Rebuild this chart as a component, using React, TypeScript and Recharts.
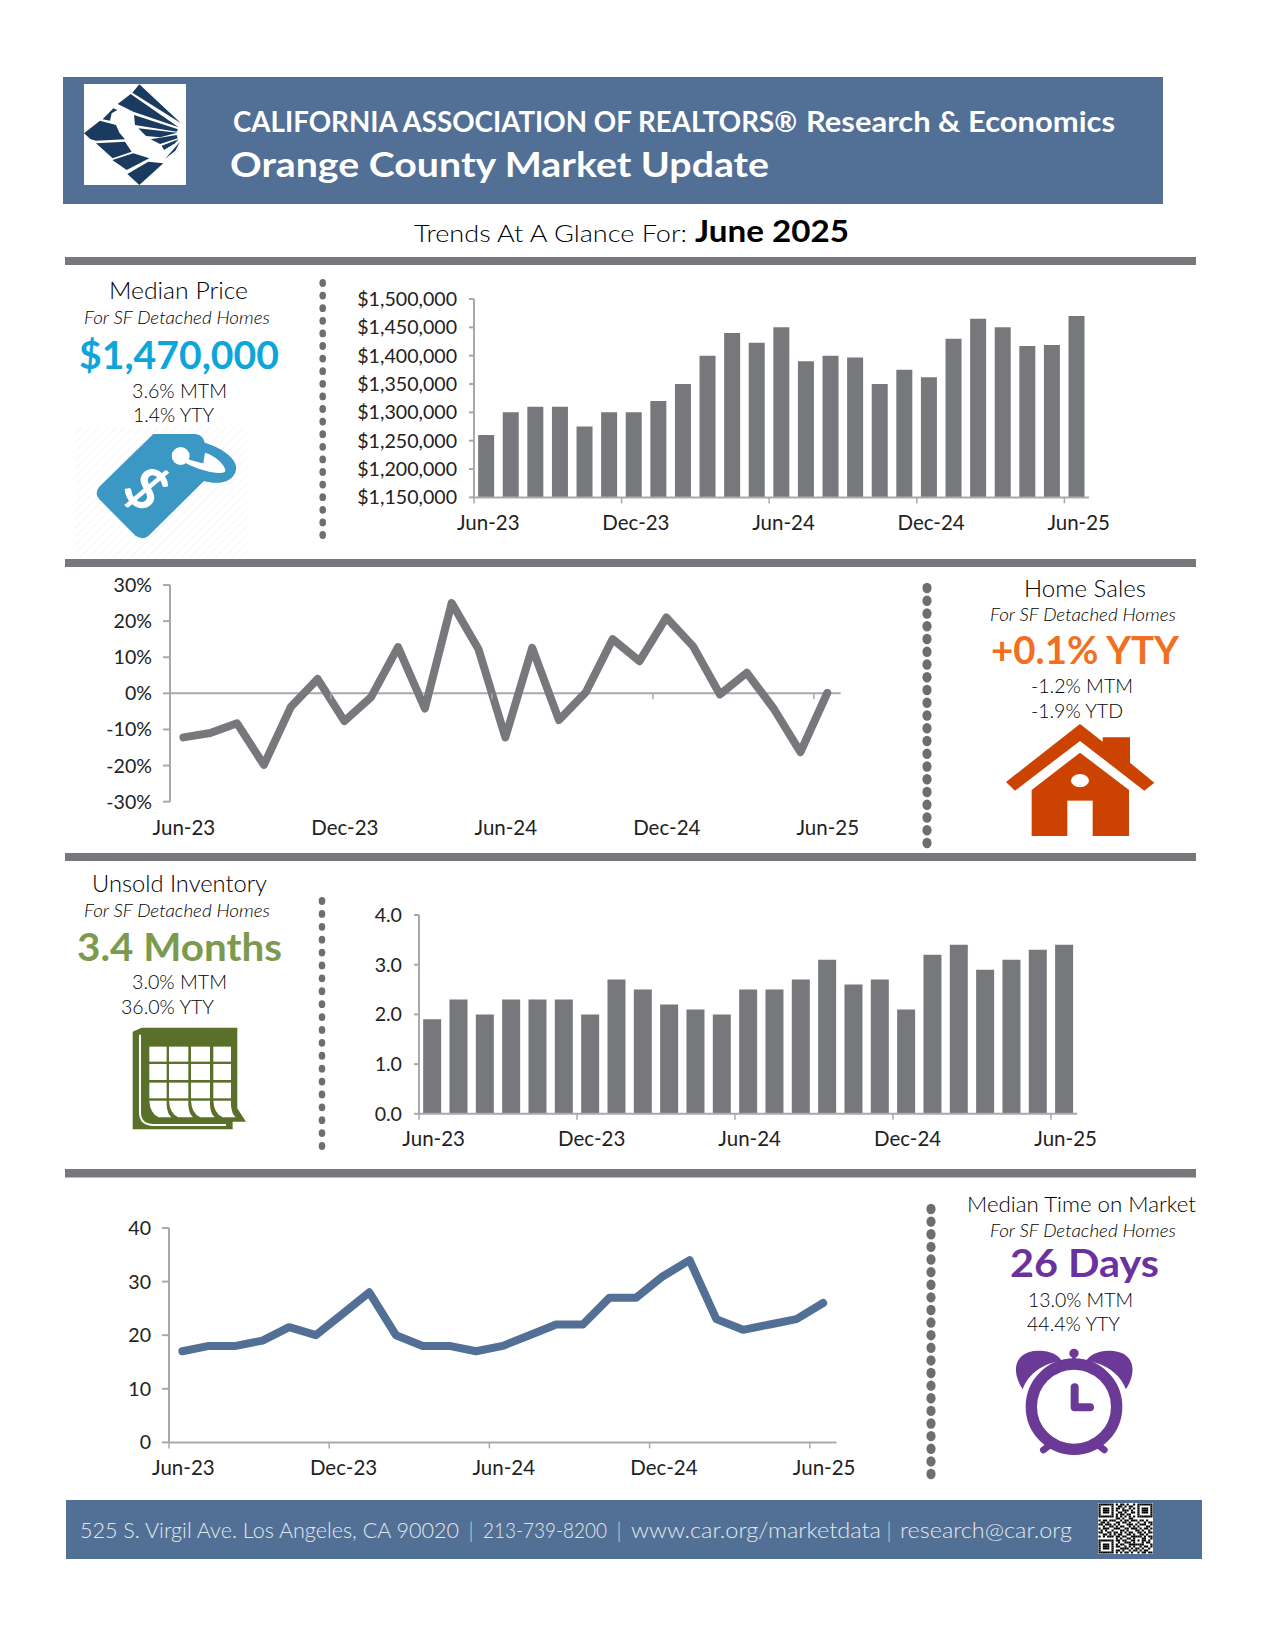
import React from "react";
import { BarChart, Bar, LineChart, Line, XAxis, YAxis, ReferenceLine } from "recharts";

const months = ["Jun-23","Jul-23","Aug-23","Sep-23","Oct-23","Nov-23","Dec-23","Jan-24","Feb-24","Mar-24","Apr-24","May-24","Jun-24","Jul-24","Aug-24","Sep-24","Oct-24","Nov-24","Dec-24","Jan-25","Feb-25","Mar-25","Apr-25","May-25","Jun-25"];
const medianPrice = [1260000,1300000,1310000,1310000,1275000,1300000,1300000,1320000,1350000,1400000,1440000,1423000,1450000,1390000,1400000,1397000,1350000,1375000,1362000,1430000,1465000,1450000,1417000,1419000,1470000];
const homeSalesYoY = [-12.2,-11,-8.3,-19.8,-3.8,4,-7.7,-1,12.8,-4.2,25,12.2,-12.2,12.6,-7.4,0.3,15,8.9,21,13,-0.3,5.7,-4.2,-16.3,0.1];
const unsoldInventory = [1.9,2.3,2.0,2.3,2.3,2.3,2.0,2.7,2.5,2.2,2.1,2.0,2.5,2.5,2.7,3.1,2.6,2.7,2.1,3.2,3.4,2.9,3.1,3.3,3.4];
const medianDays = [17,18,18,19,21.5,20,24,28,20,18,18,17,18,20,22,22,27,27,31,34,23,21,22,23,26];
const priceTicks = [1150000,1200000,1250000,1300000,1350000,1400000,1450000,1500000];
const salesTicks = [-30,-20,-10,0,10,20,30];
const inventoryTicks = [0,1,2,3,4];
const dayTicks = [0,10,20,30,40];

const zip = (values: number[]) => months.map((month, i) => ({ month, value: values[i] }));

const FONT = "Lato, 'Noto Sans', sans-serif";
const BLUE = "#526F95";
const GREY = "#77787B";
const AXIS = "#A7A9AC";
const INK = "#222222";
const PAD = 20;
const PAD_R = 45;
const XH = 45;

type Plot = { left: number; top: number; right: number; bottom: number; yw: number; base: number; dx: number };
const plot1: Plot = { left: 474, top: 299.3, right: 1089, bottom: 497.7, yw: 130, base: 32.3, dx: 2 };
const plot2: Plot = { left: 170.3, top: 585, right: 841, bottom: 801.7, yw: 70, base: 33.3, dx: 0.5 };
const plot3: Plot = { left: 418.7, top: 914.6, right: 1077, bottom: 1113.4, yw: 70, base: 32.4, dx: 1.5 };
const plot4: Plot = { left: 169.3, top: 1228, right: 836.8, bottom: 1442.4, yw: 70, base: 33, dx: 1 };

const boxStyle = (p: Plot): React.CSSProperties => ({
  position: "absolute",
  left: p.left - p.yw - PAD,
  top: p.top - PAD,
});
const dims = (p: Plot) => ({
  width: p.right - p.left + p.yw + PAD + PAD_R,
  height: p.bottom - p.top + XH + 2 * PAD,
  margin: { left: PAD, top: PAD, right: PAD_R, bottom: PAD },
});

const bandOf = (p: Plot) => (p.right - p.left) / months.length;

const makeTick = (p: Plot, tickFromValue?: number) => (props: any) => {
  const { x, payload } = props;
  const plotBottom = PAD + (p.bottom - p.top);
  const tickY = tickFromValue === undefined ? plotBottom : PAD + (p.bottom - p.top) * tickFromValue;
  const tx = x - bandOf(p) / 2;
  return (
    <g>
      <line x1={tx} x2={tx} y1={tickY} y2={tickY + 6} stroke={AXIS} strokeWidth={1.5} />
      <text x={x + p.dx} y={plotBottom + p.base} textAnchor="middle" fontFamily={FONT} fontSize={20.5} fill={INK}>
        {payload.value}
      </text>
    </g>
  );
};

const yTick = { fontFamily: FONT, fontSize: 19.6, fill: INK };
const line = { stroke: AXIS, strokeWidth: 2 };

const T = ({ a, b, y, s, w, i, f, children }: any) => (
  <text
    x={a}
    y={y}
    textLength={b - a}
    lengthAdjust="spacingAndGlyphs"
    fontFamily={FONT}
    fontSize={s}
    fontWeight={w || 300}
    fontStyle={i ? "italic" : "normal"}
    fill={f || "#000000"}
  >
    {children}
  </text>
);

const Dots = ({ x, y0, y1, rx, ry }: any) => {
  const n = Math.round((y1 - y0) / 12.6);
  const ds = Array.from({ length: n + 1 }, (_, i) => y0 + ((y1 - y0) * i) / n);
  return (
    <g fill="#6D6E71">
      {ds.map((y) => (
        <ellipse key={y} cx={x} cy={y} rx={rx} ry={ry} />
      ))}
    </g>
  );
};

const QR_ROWS = [
  "1111111010110100101111111",
  "1000001001101011001000001",
  "1011101011010010101011101",
  "1011101010011101001011101",
  "1011101001101001101011101",
  "1000001010110110001000001",
  "1111111010101010101111111",
  "0000000011010011000000000",
  "1011011100101101110110100",
  "0110100011011010001001011",
  "1101110101000111010111001",
  "0010011010110010101000110",
  "1011100111001101110101101",
  "0101001000110100011010010",
  "1100110110101011001101011",
  "0011010101100110100110100",
  "1010111011011001111101011",
  "0000000010100110100011001",
  "1111111011011001101011010",
  "1000001001001110100010110",
  "1011101010110011111110001",
  "1011101011001010100101101",
  "1011101000111101011010010",
  "1000001011010010110101100",
  "1111111010101101001011011",
];

const Logo = () => (
  <g transform="translate(80,80) scale(0.3333)">
    <rect x={12} y={12} width={306} height={303} fill="#FFFFFF" />
    <g fill="#1B3A5F">
      <polygon points="178,13 303,130 157,38" />
      <polygon points="113,72 152,42 296,142 160,95" />
      <polygon points="162,105 294,148 290,155 165,135" />
      <polygon points="175,145 292,158 240,172 198,168" />
      <polygon points="212,178 290,165 293,175 240,192" />
      <polygon points="245,197 296,178 285,190 252,210" />
      <polygon points="256,236 300,185 286,212" />
      <polygon points="12,160 60,122 108,135 118,158 135,178 48,182 32,178" />
      <polygon points="68,118 100,85 112,90 95,100 90,122" />
      <polygon points="48,190 135,185 155,215 98,235" />
      <polygon points="97,240 160,220 208,235 140,270" />
      <polygon points="142,282 205,245 250,250 178,315" />
    </g>
  </g>
);

const Tag = () => (
  <g transform="translate(90,430) scale(0.3333)" fill="#3B97C4">
    <path d="M190 12 H315 Q340 14 345 40 L345 150 L175 318 Q155 332 135 316 L28 208 Q12 190 28 170 Z" />
    <path d="M345 38 C400 55 445 90 438 120 C430 160 380 165 340 152 L345 100 Z" />
    <circle cx={272} cy={78} r={27} fill="#FFFFFF" />
    <path d="M295 88 C315 95 330 98 340 100 L345 68 C385 80 412 115 405 125 C392 135 335 125 288 100 Z" fill="#FFFFFF" />
    <text x={170} y={238} fontFamily={FONT} fontWeight={700} fontSize={175} fill="#FFFFFF" textAnchor="middle" transform="rotate(45 170 175)">$</text>
  </g>
);

const House = () => (
  <g transform="translate(960,570) scale(0.3333)" fill="#CC4200">
    <polygon points="360,462 428,515 428,502 510,502 510,578 583,638 553,662 360,513 165,662 138,636" />
    <polygon points="360,548 507,660 507,798 215,798 215,660" />
    <rect x={322} y={692} width={76} height={106} fill="#FFFFFF" />
    <ellipse cx={360} cy={632} rx={27} ry={20} fill="#FFFFFF" />
  </g>
);

const calXs = [[268, 320], [327, 385], [393, 450], [460, 513]];
const calYs = [[560, 605], [612, 660], [668, 715]];

const Calendar = () => (
  <g transform="translate(60,860) scale(0.3333)">
    <polygon points="218,515 245,503 532,503 532,745 558,785 518,785 518,808 218,808" fill="#5A702A" />
    <path d="M240 524 V760 Q242 795 280 795 H498" fill="none" stroke="#FFFFFF" strokeWidth={6} />
    <g fill="#FFFFFF">
      {calXs.map(([a, b]) =>
        calYs.map(([c, d]) => <rect key={`${a}-${c}`} x={a} y={c} width={b - a} height={d - c} />),
      )}
      {calXs.map(([a, b]) => (
        <path key={a} d={`M${a} 722 H${b} V736 Q${b + 2} 762 ${b + 14} 772 H${a + 28} Q${a + 2} 760 ${a} 722 Z`} />
      ))}
    </g>
  </g>
);

const Clock = () => (
  <g transform="translate(960,1190) scale(0.3333)" fill="#6B3A96">
    <circle cx={342} cy={650} r={128} fill="none" stroke="#6B3A96" strokeWidth={34} />
    <path d="M188 598 C150 540 165 480 240 482 C270 482 295 495 305 512 C250 520 205 550 188 598 Z" />
    <path d="M498 598 C536 540 520 480 445 482 C415 482 390 495 378 512 C435 520 480 550 498 598 Z" />
    <circle cx={342} cy={490} r={14} />
    <rect x={337} y={495} width={10} height={35} />
    <path d="M344 592 V652 H390" fill="none" stroke="#6B3A96" strokeWidth={24} strokeLinecap="round" strokeLinejoin="round" />
    <line x1={250} y1={780} x2={280} y2={758} stroke="#6B3A96" strokeWidth={20} strokeLinecap="round" />
    <line x1={433} y1={780} x2={405} y2={758} stroke="#6B3A96" strokeWidth={20} strokeLinecap="round" />
  </g>
);

const Page = () => (
  <svg width={1275} height={1650} style={{ position: "absolute", left: 0, top: 0 }}>
    <defs>
      <pattern id="hatch" width={6} height={6} patternUnits="userSpaceOnUse" patternTransform="rotate(45)">
        <line x1={0} y1={0} x2={0} y2={6} stroke="#EEEEEE" strokeWidth={1} />
      </pattern>
    </defs>
    <rect x={63} y={77} width={1100} height={127} fill={BLUE} />
    <Logo />
    <T a={233} b={797} y={132} s={28} w={700} f="#FFFFFF">CALIFORNIA ASSOCIATION OF REALTORS®</T>
    <T a={806} b={1115} y={132} s={28} w={700} f="#FFFFFF">Research &amp; Economics</T>
    <T a={230} b={769} y={177} s={35} w={700} f="#FFFFFF">Orange County Market Update</T>
    <T a={414} b={687} y={242} s={24}>Trends At A Glance For:</T>
    <T a={695} b={849} y={242} s={31} w={700} f="#000000">June 2025</T>

    <rect x={65} y={257} width={1131} height={8} fill={GREY} />
    <rect x={65} y={559} width={1131} height={8} fill={GREY} />
    <rect x={65} y={853} width={1131} height={8} fill={GREY} />
    <rect x={65} y={1169} width={1131} height={8.5} fill={GREY} />

    <T a={109} b={248} y={299} s={23}>Median Price</T>
    <T a={84} b={270} y={324} s={17} i>For SF Detached Homes</T>
    <T a={79} b={279} y={369} s={39} w={700} f="#0EA5DB">$1,470,000</T>
    <T a={132} b={227} y={398} s={20}>3.6% MTM</T>
    <T a={133} b={214} y={422} s={20}>1.4% YTY</T>
    <rect x={75} y={427} width={172} height={131} fill="url(#hatch)" />
    <Tag />
    <Dots x={322.7} y0={283} y1={535} rx={3.3} ry={3.9} />

    <T a={1024} b={1146} y={597} s={23}>Home Sales</T>
    <T a={990} b={1176} y={621} s={17} i>For SF Detached Homes</T>
    <T a={991} b={1179} y={664} s={39} w={700} f="#F26F21">+0.1% YTY</T>
    <T a={1031} b={1133} y={693} s={20}>-1.2% MTM</T>
    <T a={1031} b={1123} y={718} s={20}>-1.9% YTD</T>
    <House />
    <Dots x={927} y0={588} y1={843} rx={4.6} ry={5.2} />

    <T a={92} b={267} y={892} s={23}>Unsold Inventory</T>
    <T a={84} b={270} y={917} s={17} i>For SF Detached Homes</T>
    <T a={77} b={282} y={961} s={39} w={700} f="#7C9A4E">3.4 Months</T>
    <T a={132} b={227} y={989} s={20}>3.0% MTM</T>
    <T a={121} b={214} y={1014} s={20}>36.0% YTY</T>
    <Calendar />
    <Dots x={322} y0={901} y1={1146} rx={3.3} ry={3.9} />

    <T a={967} b={1196} y={1212} s={22}>Median Time on Market</T>
    <T a={990} b={1176} y={1237} s={17} i>For SF Detached Homes</T>
    <T a={1010} b={1159} y={1277} s={39} w={700} f="#6A329F">26 Days</T>
    <T a={1028} b={1133} y={1307} s={20}>13.0% MTM</T>
    <T a={1027} b={1120} y={1331} s={20}>44.4% YTY</T>
    <Clock />
    <Dots x={931} y0={1209} y1={1474} rx={4.6} ry={5.2} />

    <rect x={66} y={1500} width={1136} height={59} fill={BLUE} />
    <T a={80} b={459} y={1538} s={21} f="#E3E8EE">525 S. Virgil Ave. Los Angeles, CA 90020</T>
    <T a={469} b={473} y={1538} s={21} f="#E3E8EE">|</T>
    <T a={483} b={607} y={1538} s={21} f="#E3E8EE">213-739-8200</T>
    <T a={617} b={621} y={1538} s={21} f="#E3E8EE">|</T>
    <T a={631} b={881} y={1538} s={21} f="#E3E8EE">www.car.org/marketdata</T>
    <T a={887} b={891} y={1538} s={21} f="#E3E8EE">|</T>
    <T a={900} b={1072} y={1538} s={21} f="#E3E8EE">research@car.org</T>
    <rect x={1098} y={1503} width={55} height={51} fill="#FFFFFF" />
    {QR_ROWS.map((row, r) =>
      row.split("").map((c, k) =>
        c === "1" ? <rect key={`${r}-${k}`} x={1098.5 + k * 2.16} y={1503.5 + r * 2} width={2.16} height={2} fill="#000000" /> : null,
      ),
    )}
  </svg>
);

export default function App() {
  return (
    <div style={{ position: "absolute", left: 0, top: 0, width: 1275, height: 1650, background: "#FFFFFF", overflow: "hidden" }}>
      <Page />

      <div style={boxStyle(plot1)}>
        <BarChart {...dims(plot1)} data={zip(medianPrice)} barCategoryGap="16.8%">
          <XAxis dataKey="month" interval={5} height={XH} tickLine={false} axisLine={line} tick={makeTick(plot1)} />
          <YAxis width={plot1.yw} domain={[1150000, 1500000]} ticks={priceTicks} interval={0} tick={yTick} tickSize={5} tickMargin={12} axisLine={line} tickLine={line}
            tickFormatter={(v: number) => "$" + v.toLocaleString("en-US")} />
          <Bar dataKey="value" fill={GREY} isAnimationActive={false} />
        </BarChart>
      </div>

      <div style={boxStyle(plot2)}>
        <LineChart {...dims(plot2)} data={zip(homeSalesYoY)}>
          <XAxis dataKey="month" interval={5} height={XH} tickLine={false} axisLine={false} padding={{ left: bandOf(plot2) / 2, right: bandOf(plot2) / 2 }} tick={makeTick(plot2, 0.5)} />
          <YAxis width={plot2.yw} domain={[-30, 30]} ticks={salesTicks} interval={0} tick={yTick} tickSize={7} tickMargin={11} axisLine={line} tickLine={line}
            tickFormatter={(v: number) => `${v}%`} />
          <ReferenceLine y={0} stroke={AXIS} strokeWidth={2} />
          <Line dataKey="value" stroke={GREY} strokeWidth={8} dot={false} strokeLinecap="round" strokeLinejoin="round" isAnimationActive={false} />
        </LineChart>
      </div>

      <div style={boxStyle(plot3)}>
        <BarChart {...dims(plot3)} data={zip(unsoldInventory)} barCategoryGap="15.8%">
          <XAxis dataKey="month" interval={5} height={XH} tickLine={false} axisLine={line} tick={makeTick(plot3)} />
          <YAxis width={plot3.yw} domain={[0, 4]} ticks={inventoryTicks} interval={0} tick={yTick} tickSize={5} tickMargin={12} axisLine={line} tickLine={line}
            tickFormatter={(v: number) => v.toFixed(1)} />
          <Bar dataKey="value" fill={GREY} isAnimationActive={false} />
        </BarChart>
      </div>

      <div style={boxStyle(plot4)}>
        <LineChart {...dims(plot4)} data={zip(medianDays)}>
          <XAxis dataKey="month" interval={5} height={XH} tickLine={false} axisLine={line} padding={{ left: bandOf(plot4) / 2, right: bandOf(plot4) / 2 }} tick={makeTick(plot4)} />
          <YAxis width={plot4.yw} domain={[0, 40]} ticks={dayTicks} interval={0} tick={yTick} tickSize={7} tickMargin={11} axisLine={line} tickLine={line} />
          <Line dataKey="value" stroke={BLUE} strokeWidth={8} dot={false} strokeLinecap="round" strokeLinejoin="round" isAnimationActive={false} />
        </LineChart>
      </div>
    </div>
  );
}
